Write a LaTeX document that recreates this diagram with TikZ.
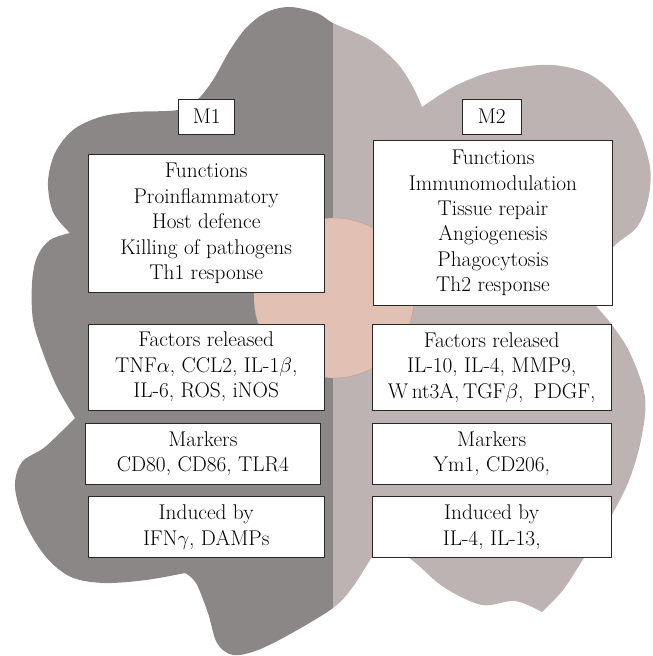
\documentclass[tikz,border=0pt]{standalone}
\definecolor{mdark}{RGB}{140,135,135}
\definecolor{mlight}{RGB}{188,179,178}
\definecolor{mcirc}{RGB}{226,192,179}
\definecolor{mline}{RGB}{40,40,40}
\tikzset{
  box/.style={draw=mline, line width=0.8pt, fill=white, inner sep=0pt, outer sep=0pt,
    align=center, font=\fontsize{21.3}{25.4}\selectfont},
}
\def\blob{%
 plot[smooth, tension=0.55] coordinates {(70,233) (53,212) (48,182) (55,153) (73,130) (100,117) (133,112) (178,110) (197,100) (213,80) (230,50) (247,27) (267,12) (290,7) (317,13) (333,23) (370,40) (397,63) (413,87) (422,107)}
 -- plot[smooth, tension=0.55] coordinates {(422,107) (453,87) (487,73) (520,67) (553,65) (587,73) (613,93) (637,127) (650,167) (648,200) (637,227) (613,247) (580,285)}
 -- plot[smooth, tension=0.55] coordinates {(580,285) (597,307) (612,325) (630,353) (645,397) (641,440) (628,483) (606,525) (584,558) (563,590) (542,612)}
 -- plot[smooth, tension=0.55] coordinates {(542,612) (515,601) (482,605) (445,588) (418,565) (407,555) (390,530)}
 -- plot[smooth, tension=0.55] coordinates {(390,530) (372,557) (352,588) (333,608) (292,633) (258,650) (233,655) (217,643) (208,613) (196,583) (185,573)}
 -- plot[smooth, tension=0.55] coordinates {(185,573) (146,580) (104,583) (71,577) (46,557) (25,523) (15,487) (22,462) (45,447) (75,418)}
 -- plot[smooth, tension=0.55] coordinates {(75,418) (57,387) (43,353) (33,320) (32,283) (37,257) (50,240) (70,233)}
 -- cycle}
\begin{document}
\begin{tikzpicture}[x=1pt,y=-1pt]
\useasboundingbox (0,0) rectangle (653,656);
% cell body, two halves
\begin{scope}
  \clip \blob;
  \fill[mdark] (0,0) rectangle (333,660);
  \fill[mlight] (333,0) rectangle (660,660);
\end{scope}
% nucleus
\fill[mcirc, draw=mcirc!80!black, line width=0.3pt] (334,298) circle[radius=80];
% M1 column
\node[box, minimum width=56pt, minimum height=34.7pt] (m1) at (206.7,116.7) {M1};
\node[box, minimum width=235.7pt, minimum height=138.4pt] (f1) at (206.2,223.5)
  {Functions\\Proinflammatory\\Host defence\\Killing of pathogens\\Th1 response};
\node[box, minimum width=235.7pt, minimum height=86pt] (r1) at (206.2,367)
  {Factors released\\TNF$\alpha$, CCL2, IL-1$\beta$,\\IL-6, ROS, iNOS};
\node[box, minimum width=235.7pt, minimum height=60.7pt] (k1) at (202.9,453.7)
  {Markers\\CD80, CD86, TLR4};
\node[box, minimum width=235.7pt, minimum height=61pt] (i1) at (206.2,527.2)
  {Induced by\\IFN$\gamma$, DAMPs};
% M2 column
\node[box, minimum width=59.7pt, minimum height=34.7pt] (m2) at (491.8,116.7) {M2};
\node[box, minimum width=239.4pt, minimum height=164.6pt] (f2) at (493,223)
  {Functions\\Immunomodulation\\Tissue repair\\Angiogenesis\\Phagocytosis\\Th2 response};
\node[box, minimum width=238.7pt, minimum height=86.7pt] (r2) at (491.7,367.3)
  {Factors released\\IL-10, IL-4, MMP9,\\W\,nt3A,\,TGF$\beta$, \,PDGF,};
\node[box, minimum width=238.7pt, minimum height=60.7pt] (k2) at (491.7,453.7)
  {Markers\\Ym1, CD206,};
\node[box, minimum width=238.7pt, minimum height=61pt] (i2) at (491.7,527.2)
  {Induced by\\IL-4, IL-13,};
\end{tikzpicture}
\end{document}
